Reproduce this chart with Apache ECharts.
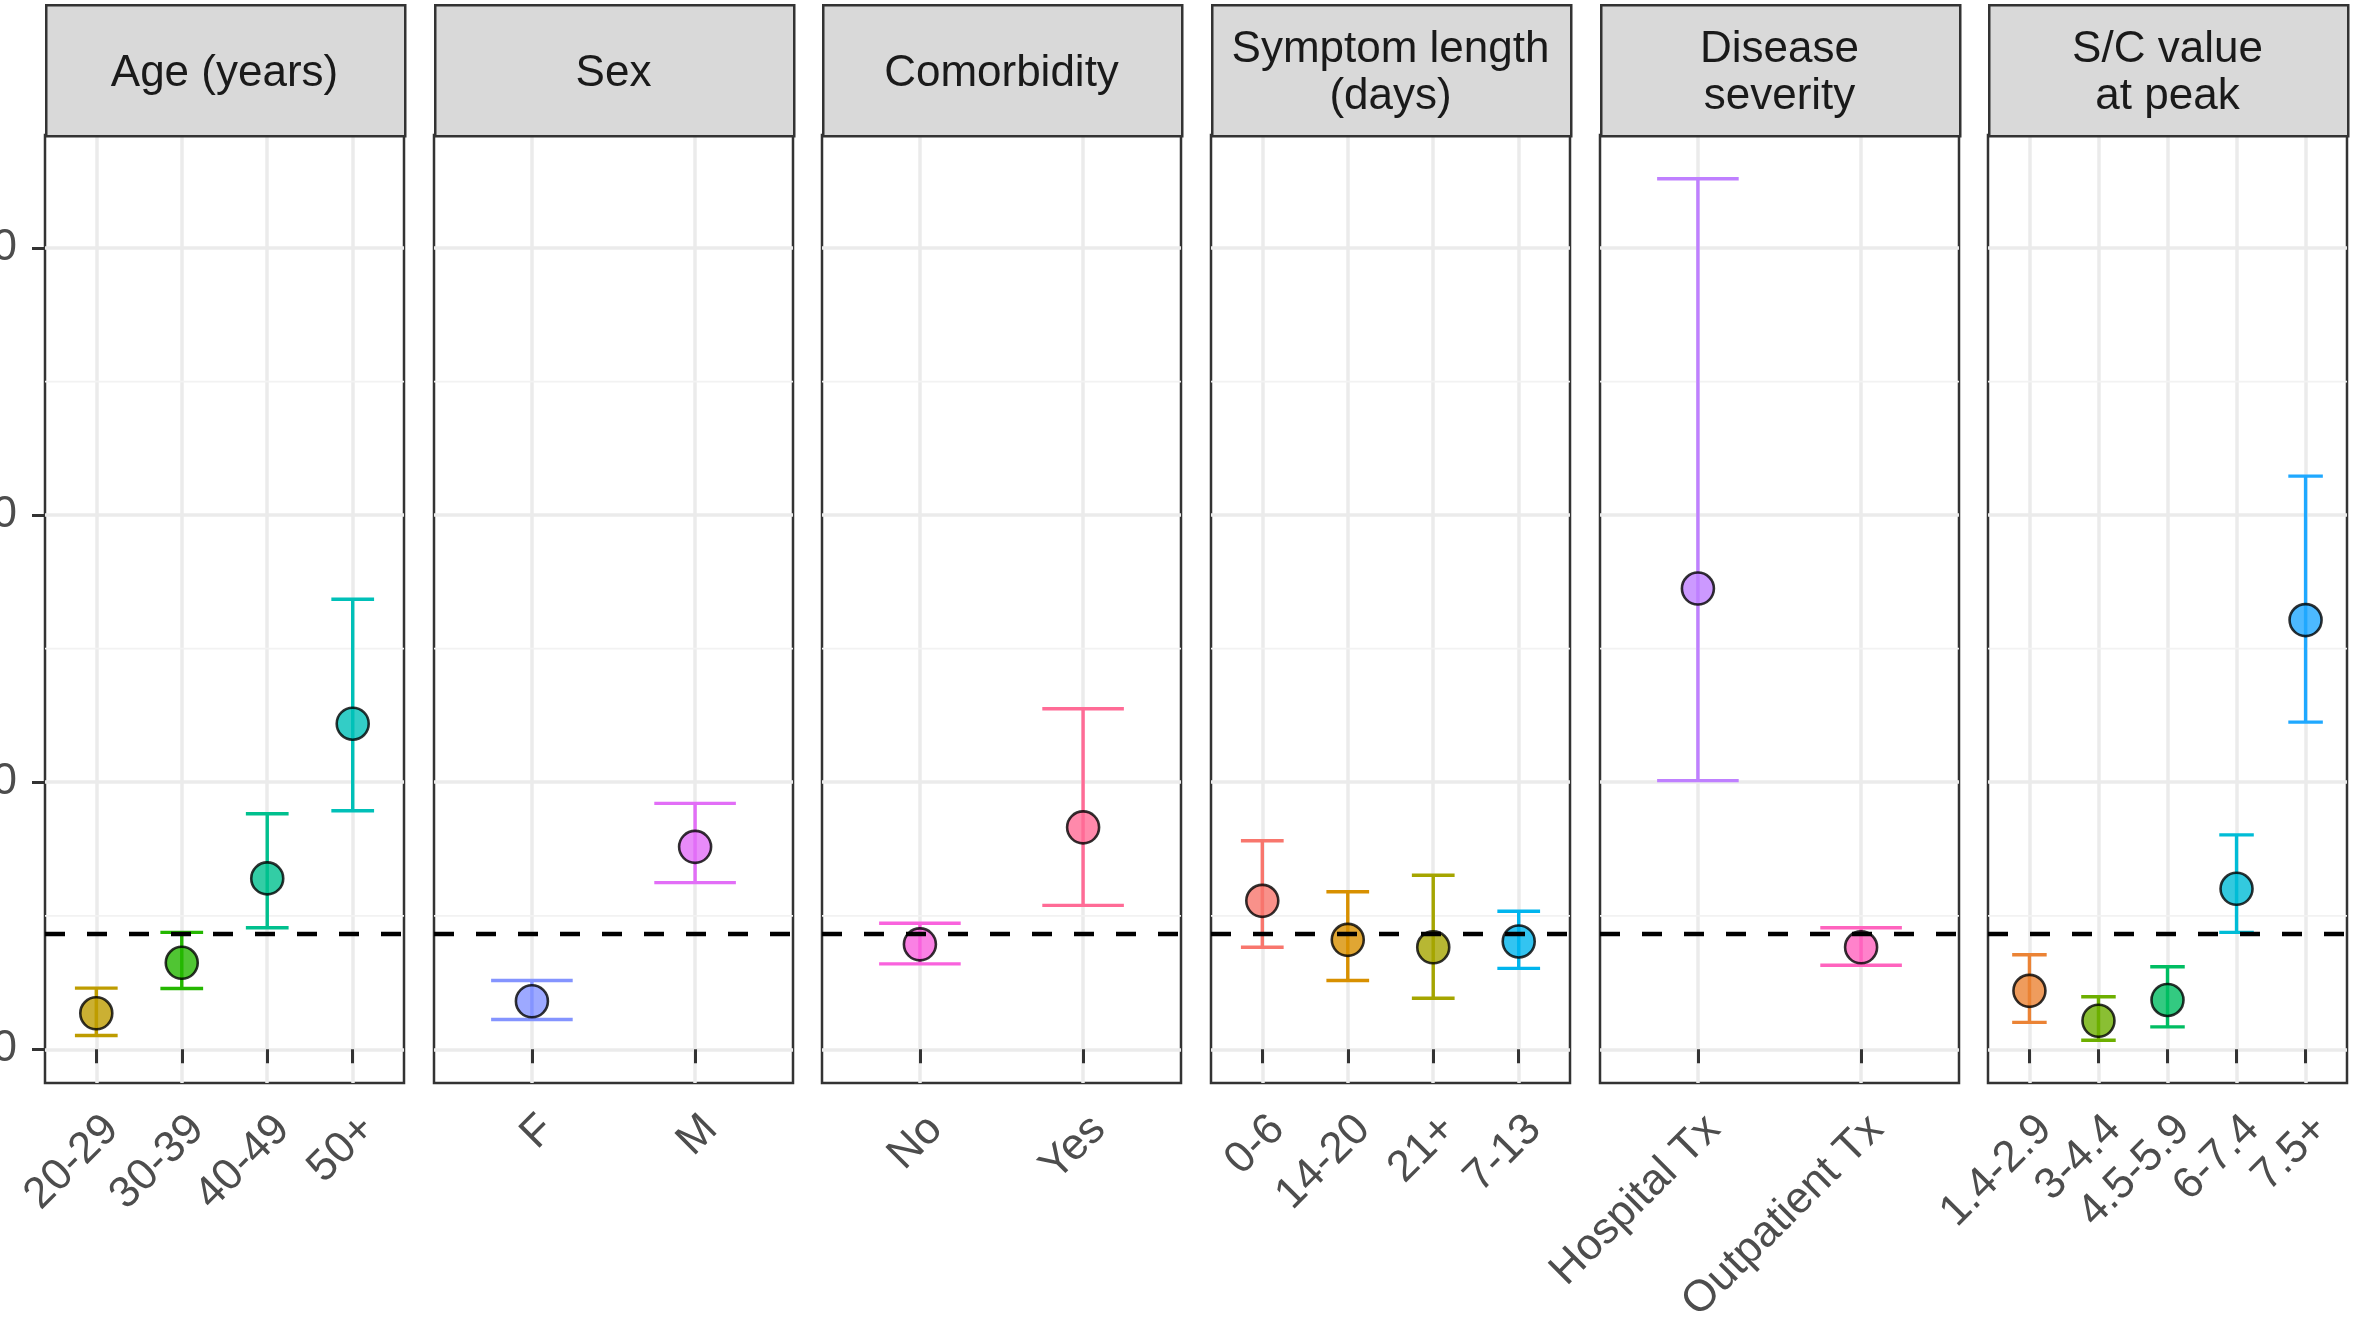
<!DOCTYPE html>
<html>
<head>
<meta charset="utf-8">
<script src="https://cdn.jsdelivr.net/npm/echarts@6/dist/echarts.min.js"></script>
<style>
html,body{margin:0;padding:0;background:#fff;}
#chart{width:2356px;height:1326px;}
</style>
</head>
<body>
<div id="chart"></div>
<script>
// ---------------- DATA ----------------
const panelTitles = ['Age (years)', 'Sex', 'Comorbidity', 'Symptom length\n(days)', 'Disease\nseverity', 'S/C value\nat peak'];

const ageCats = ['20-29', '30-39', '40-49', '50+'];
const ageEst  = [1.35, 3.24, 6.40, 12.19];
const ageLo   = [0.52, 2.28, 4.55, 8.93];
const ageHi   = [2.29, 4.38, 8.82, 16.85];

const sexCats = ['F', 'M'];
const sexEst  = [1.80, 7.58];
const sexLo   = [1.12, 6.24];
const sexHi   = [2.58, 9.21];

const comCats = ['No', 'Yes'];
const comEst  = [3.93, 8.31];
const comLo   = [3.20, 5.39];
const comHi   = [4.72, 12.75];

const symCats = ['0-6', '14-20', '21+', '7-13'];
const symEst  = [5.56, 4.10, 3.82, 4.04];
const symLo   = [3.82, 2.58, 1.91, 3.03];
const symHi   = [7.81, 5.90, 6.52, 5.17];

const sevCats = ['Hospital Tx', 'Outpatient Tx'];
const sevEst  = [17.25, 3.82];
const sevLo   = [10.06, 3.15];
const sevHi   = [32.59, 4.55];

const scCats = ['1.4-2.9', '3-4.4', '4.5-5.9', '6-7.4', '7.5+'];
const scEst  = [2.19, 1.07, 1.85, 6.01, 16.07];
const scLo   = [1.01, 0.34, 0.84, 4.38, 12.25];
const scHi   = [3.54, 1.97, 3.09, 8.03, 21.46];

const refLine = 4.33;
const yTicks = [0, 10, 20, 30];
const yMinorTicks = [5, 15, 25];

const ageColors = ['#BE9C00', '#24B700', '#00C08E', '#00C0B8'];
const sexColors = ['#8494FF', '#E26EF7'];
const comColors = ['#F962DD', '#FF6B96'];
const symColors = ['#F8766D', '#D89000', '#A5A500', '#00B5EE'];
const sevColors = ['#BF80FF', '#FF63BE'];
const scColors  = ['#EB8335', '#6DAF00', '#00BD62', '#00BCD6', '#1FA8FF'];

const panels = [
  {cats: ageCats, est: ageEst, lo: ageLo, hi: ageHi, colors: ageColors},
  {cats: sexCats, est: sexEst, lo: sexLo, hi: sexHi, colors: sexColors},
  {cats: comCats, est: comEst, lo: comLo, hi: comHi, colors: comColors},
  {cats: symCats, est: symEst, lo: symLo, hi: symHi, colors: symColors},
  {cats: sevCats, est: sevEst, lo: sevLo, hi: sevHi, colors: sevColors},
  {cats: scCats, est: scEst, lo: scLo, hi: scHi, colors: scColors}
];

// ---------------- LAYOUT ----------------
const gridLefts = [45, 434, 822, 1211, 1600, 1988];
const gridWidth = 359;
const gridTop = 135;
const gridHeight = 948;
const stripTop = 4;
const yMin = -1.26, yMax = 34.23;
const FONT = '"Liberation Sans", Arial, Helvetica, sans-serif';

const grids = [], xAxes = [], yAxes = [], series = [], graphics = [];

panels.forEach((p, i) => {
  const n = p.cats.length;
  const idx = p.cats.map((c, k) => k + 1);
  grids.push({
    left: gridLefts[i], top: gridTop, width: gridWidth, height: gridHeight,
    containLabel: false, outerBoundsMode: 'none',
    show: true, borderColor: '#333333', borderWidth: 2.5, backgroundColor: '#ffffff'
  });
  xAxes.push({
    type: 'value', gridIndex: i, min: 0.4, max: n + 0.6,
    axisLine: {show: false},
    axisTick: {show: true, customValues: idx, length: 14, lineStyle: {color: '#333333', width: 3}},
    axisLabel: {
      show: true, customValues: idx, rotate: 45, align: 'right', verticalAlign: 'top',
      margin: 24, fontSize: 44, color: '#4D4D4D', fontFamily: FONT, hideOverlap: false,
      formatter: (v) => p.cats[Math.round(v) - 1] || ''
    },
    splitLine: {show: true, lineStyle: {color: '#EBEBEB', width: 3.5}}
  });
  yAxes.push({
    type: 'value', gridIndex: i, min: yMin, max: yMax,
    axisLine: {show: false},
    axisTick: {show: i === 0, customValues: yTicks, length: 13, lineStyle: {color: '#333333', width: 3}},
    axisLabel: {show: i === 0, customValues: yTicks, margin: 28, fontSize: 44, color: '#4D4D4D', fontFamily: FONT},
    splitLine: {show: true, lineStyle: {color: '#EBEBEB', width: 3.5}}
  });

  // minor horizontal grid lines (drawn under the marks)
  series.push({
    type: 'custom', xAxisIndex: i, yAxisIndex: i, z: 1, silent: true,
    renderItem: function (params, api) {
      const cs = params.coordSys;
      const pt = api.coord([1, api.value(0)]);
      return {
        type: 'line',
        shape: {x1: cs.x, y1: pt[1], x2: cs.x + cs.width, y2: pt[1]},
        style: {stroke: '#F2F2F2', lineWidth: 1.8}
      };
    },
    encode: {y: 0},
    data: yMinorTicks.map(v => [v])
  });

  // error bars
  series.push({
    type: 'custom', xAxisIndex: i, yAxisIndex: i, z: 3, silent: true,
    renderItem: function (params, api) {
      const x = api.value(0), lo = api.value(1), hi = api.value(2);
      const top = api.coord([x, hi]);
      const bot = api.coord([x, lo]);
      const l = api.coord([x - 0.25, hi]);
      const r = api.coord([x + 0.25, hi]);
      const col = api.visual('color');
      const st = {stroke: col, lineWidth: 3.4, fill: null};
      return {
        type: 'group',
        children: [
          {type: 'line', shape: {x1: top[0], y1: top[1], x2: bot[0], y2: bot[1]}, style: st},
          {type: 'line', shape: {x1: l[0], y1: top[1], x2: r[0], y2: top[1]}, style: st},
          {type: 'line', shape: {x1: l[0], y1: bot[1], x2: r[0], y2: bot[1]}, style: st}
        ]
      };
    },
    data: p.cats.map((c, k) => ({value: [k + 1, p.lo[k], p.hi[k]], itemStyle: {color: p.colors[k]}}))
  });

  // points
  series.push({
    type: 'scatter', xAxisIndex: i, yAxisIndex: i, z: 4, silent: true,
    symbol: 'circle', symbolSize: 32,
    data: p.cats.map((c, k) => ({value: [k + 1, p.est[k]], itemStyle: {color: p.colors[k], borderColor: '#000', borderWidth: 2.6}}))
  });

  // dashed reference line
  series.push({
    type: 'line', xAxisIndex: i, yAxisIndex: i, data: [], silent: true, z: 6,
    markLine: {
      silent: true, symbol: ['none', 'none'], label: {show: false}, animation: false,
      lineStyle: {color: '#000000', width: 4.3, type: [20, 22]},
      emphasis: {disabled: true},
      data: [{yAxis: refLine}]
    }
  });

  // strip
  graphics.push({
    type: 'rect', left: gridLefts[i], top: stripTop,
    shape: {width: gridWidth, height: gridTop - stripTop},
    style: {fill: '#D9D9D9', stroke: '#333333', lineWidth: 2.5}, z: 10
  });
  graphics.push({
    type: 'text', z: 11,
    x: gridLefts[i] + gridWidth / 2, y: stripTop + (gridTop - stripTop) / 2 + 4,
    style: {
      text: panelTitles[i], fill: '#1A1A1A', fontSize: 44, fontFamily: FONT,
      align: 'center', verticalAlign: 'middle', lineHeight: 47
    }
  });
});

const chart = echarts.init(document.getElementById('chart'), null, {renderer: 'canvas'});
chart.setOption({
  animation: false,
  backgroundColor: '#ffffff',
  grid: grids,
  xAxis: xAxes,
  yAxis: yAxes,
  series: series,
  graphic: graphics
});
</script>
</body>
</html>
